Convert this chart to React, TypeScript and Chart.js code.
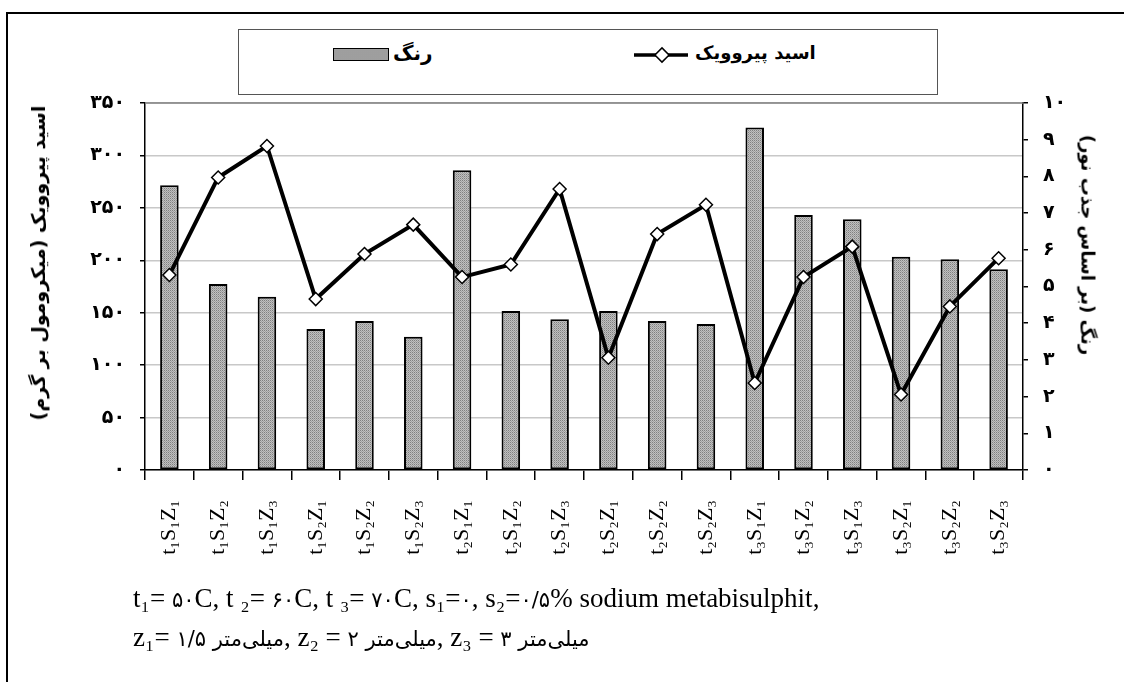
import React, { useEffect, useRef } from 'react';
import { Chart, registerables } from 'chart.js';

Chart.register(...registerables);

const categories = [
  't₁S₁Z₁', 't₁S₁Z₂', 't₁S₁Z₃', 't₁S₂Z₁', 't₁S₂Z₂', 't₁S₂Z₃',
  't₂S₁Z₁', 't₂S₁Z₂', 't₂S₁Z₃', 't₂S₂Z₁', 't₂S₂Z₂', 't₂S₂Z₃',
  't₃S₁Z₁', 't₃S₁Z₂', 't₃S₁Z₃', 't₃S₂Z₁', 't₃S₂Z₂', 't₃S₂Z₃',
];

// رنگ (بر اساس جذب نور) — right axis, bars
const colorValues = [7.76, 5.07, 4.72, 3.84, 4.06, 3.63, 8.17, 4.33, 4.11, 4.33, 4.06, 3.98, 9.33, 6.95, 6.83, 5.81, 5.74, 5.47];

// اسید پیروویک (میکرومول بر گرم) — left axis, line
const pyruvicValues = [186, 279, 309, 163, 206, 234, 184, 196, 268, 107, 225, 253, 83, 184, 213, 72, 156, 202];

const leftAxis = { min: 0, max: 350, step: 50 };
const rightAxis = { min: 0, max: 10, step: 1 };

const barLabel = 'رنگ';
const lineLabel = 'اسید پیروویک';
const leftTitle = 'اسید پیروویک (میکرومول بر گرم)';
const rightTitle = 'رنگ (بر اساس جذب نور)';
const millimetre = 'میلی‌متر';

const faDigits = '۰۱۲۳۴۵۶۷۸۹';
const fa = (v: number | string) => String(v).replace(/\d/g, (d) => faDigits[+d]);

function makePattern(): CanvasPattern | string {
  const c = document.createElement('canvas');
  c.width = 2;
  c.height = 2;
  const ctx = c.getContext('2d');
  if (!ctx) return '#aaa';
  ctx.fillStyle = '#c0c0c0';
  ctx.fillRect(0, 0, 2, 2);
  ctx.fillStyle = '#808080';
  ctx.fillRect(0, 0, 1, 1);
  ctx.fillStyle = '#a0a0a0';
  ctx.fillRect(1, 1, 1, 1);
  return ctx.createPattern(c, 'repeat') || '#aaa';
}

const topBorderPlugin = {
  id: 'topBorder',
  beforeDatasetsDraw(chart: any) {
    const { ctx, chartArea } = chart;
    ctx.save();
    ctx.strokeStyle = '#808080';
    ctx.lineWidth = 1.5;
    ctx.beginPath();
    ctx.moveTo(chartArea.left, chartArea.top);
    ctx.lineTo(chartArea.right, chartArea.top);
    ctx.stroke();
    ctx.restore();
  },
};

const tickFont = { family: '"DejaVu Sans", sans-serif', size: 19, weight: 'bold' as const };

const P = ({ children }: { children: React.ReactNode }) => (
  <span style={{ fontFamily: '"DejaVu Sans", sans-serif', fontSize: 21 }}>{children}</span>
);

export default function App() {
  const ref = useRef<HTMLCanvasElement | null>(null);

  useEffect(() => {
    if (!ref.current) return;
    const pattern = makePattern();
    const chart = new Chart(ref.current, {
      type: 'bar',
      data: {
        labels: categories,
        datasets: [
          {
            type: 'line' as const,
            label: lineLabel,
            data: pyruvicValues,
            yAxisID: 'y',
            borderColor: '#000',
            borderWidth: 4,
            pointStyle: 'rectRot',
            pointRadius: 6.5,
            pointBackgroundColor: '#fff',
            pointBorderColor: '#000',
            pointBorderWidth: 1.5,
            tension: 0,
            order: 0,
          } as any,
          {
            type: 'bar' as const,
            label: barLabel,
            data: colorValues,
            yAxisID: 'y1',
            backgroundColor: pattern as any,
            borderColor: '#000',
            borderWidth: 2,
            borderSkipped: false,
            barPercentage: 0.38,
            categoryPercentage: 1,
            order: 1,
          } as any,
        ],
      },
      options: {
        responsive: false,
        animation: false,
        devicePixelRatio: 1,
        layout: { padding: { top: 103, left: 0, right: 0, bottom: 0 } },
        plugins: { legend: { display: false }, tooltip: { enabled: false } },
        scales: {
          x: {
            offset: true,
            grid: { offset: true, drawOnChartArea: false, tickLength: 10, color: '#000', lineWidth: 1.5 },
            border: { color: '#000', width: 1.5 },
            ticks: {
              autoSkip: false,
              minRotation: 90,
              maxRotation: 90,
              padding: 20,
              color: '#000',
              font: { family: '"Liberation Serif", "Times New Roman", serif', size: 22 },
            },
            afterFit: (s: any) => { s.height = 212; },
          },
          y: {
            position: 'left',
            min: leftAxis.min,
            max: leftAxis.max,
            ticks: { stepSize: leftAxis.step, callback: (v: any) => fa(v), padding: 15, color: '#000', font: tickFont },
            grid: { color: '#c8c8c8', lineWidth: 1.5, tickLength: 5, tickColor: '#000' },
            border: { color: '#000', width: 1.5 },
            afterFit: (s: any) => { s.width = 145; },
          },
          y1: {
            position: 'right',
            min: rightAxis.min,
            max: rightAxis.max,
            ticks: { stepSize: rightAxis.step, callback: (v: any) => fa(v), padding: 15, color: '#000', font: tickFont },
            grid: { drawOnChartArea: false, tickLength: 5, color: '#000', lineWidth: 1.5 },
            border: { color: '#000', width: 1.5 },
            afterFit: (s: any) => { s.width = 101; },
          },
        },
      } as any,
      plugins: [topBorderPlugin],
    });
    return () => chart.destroy();
  }, []);

  const persianBold: React.CSSProperties = {
    fontFamily: '"DejaVu Sans", sans-serif',
    fontWeight: 'bold',
    color: '#000',
    whiteSpace: 'nowrap',
  };

  const noteStyle: React.CSSProperties = {
    position: 'absolute',
    left: 133,
    fontFamily: '"Liberation Serif", "Times New Roman", serif',
    fontSize: 27,
    lineHeight: '31px',
    color: '#000',
    whiteSpace: 'nowrap',
  };

  return (
    <div style={{ position: 'absolute', left: 0, top: 0, width: 1124, height: 682, overflow: 'hidden', background: '#fff' }}>
      <canvas ref={ref} width={1124} height={682} style={{ position: 'absolute', left: 0, top: 0, width: 1124, height: 682 }} />
      {/* outer frame */}
      <div style={{ position: 'absolute', left: 6, top: 12, width: 1140, height: 700, border: '2px solid #000', pointerEvents: 'none' }} />
      {/* legend */}
      <div style={{ position: 'absolute', left: 238, top: 29, width: 700, height: 66, border: '1.5px solid #555', background: '#fff', boxSizing: 'border-box' }}>
        <div style={{ position: 'absolute', left: 94, top: 18, width: 56, height: 13, border: '1.5px solid #000', boxSizing: 'border-box', backgroundColor: '#c0c0c0', backgroundImage: 'radial-gradient(#777 0.6px, transparent 0.8px)', backgroundSize: '2px 2px' }} />
        <div dir="rtl" style={{ ...persianBold, position: 'absolute', left: 154, top: 11, fontSize: 20 }}>{barLabel}</div>
        <svg style={{ position: 'absolute', left: 393, top: 14 }} width={60} height={22}>
          <line x1={2} y1={11} x2={56} y2={11} stroke="#000" strokeWidth={3.5} />
          <rect x={25} y={6} width={10} height={10} transform="rotate(45 30 11)" fill="#fff" stroke="#000" strokeWidth={1.5} />
        </svg>
        <div dir="rtl" style={{ ...persianBold, position: 'absolute', left: 456, top: 12, fontSize: 18 }}>{lineLabel}</div>
      </div>
      {/* axis titles */}
      <div dir="rtl" style={{ ...persianBold, position: 'absolute', left: 38, top: 263, fontSize: 19, transform: 'translate(-50%, -50%) rotate(-90deg)' }}>{leftTitle}</div>
      <div dir="rtl" style={{ ...persianBold, position: 'absolute', left: 1088, top: 245, fontSize: 18, transform: 'translate(-50%, -50%) rotate(90deg)' }}>{rightTitle}</div>
      {/* notes */}
      <div dir="ltr" style={{ ...noteStyle, top: 583 }}>
        t₁= <P>{fa(50)}</P>C, t ₂= <P>{fa(60)}</P>C, t ₃= <P>{fa(70)}</P>C, s₁=<P>{fa(0)}</P>, s₂=<P>{fa(0)}/{fa(5)}</P>% sodium metabisulphit,
      </div>
      <div dir="ltr" style={{ ...noteStyle, top: 622 }}>
        z₁= <P>{fa(1)}/{fa(5)} {millimetre}</P>, z₂ = <P>{fa(2)} {millimetre}</P>, z₃ = <P>{fa(3)} {millimetre}</P>
      </div>
    </div>
  );
}
